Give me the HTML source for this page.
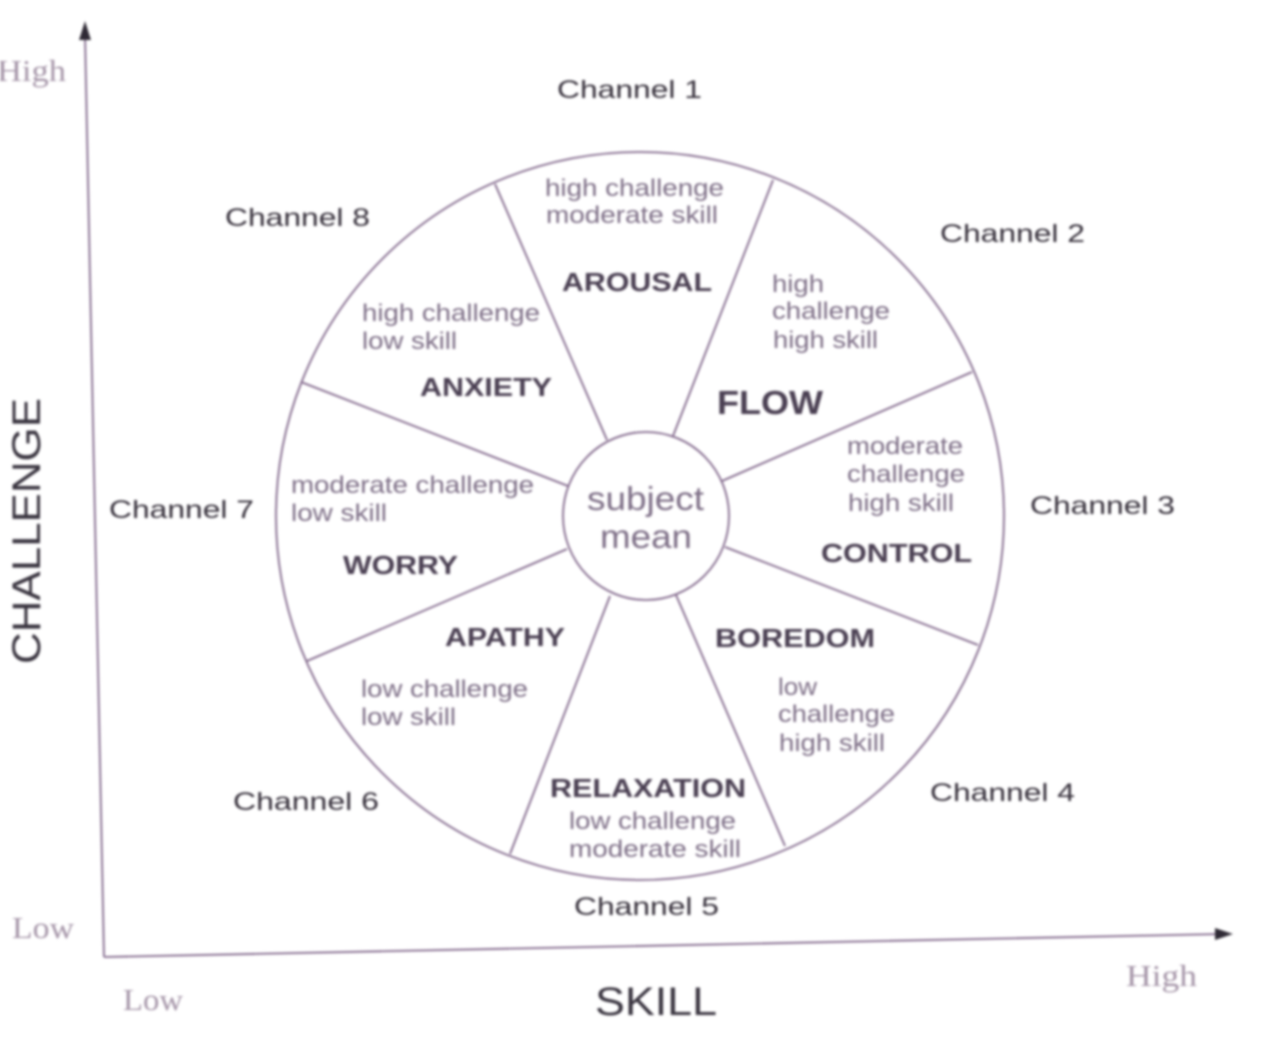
<!DOCTYPE html>
<html><head><meta charset="utf-8">
<style>
html,body{margin:0;padding:0;background:#fff;width:1280px;height:1055px;overflow:hidden}
svg{display:block;filter:blur(1.4px)}
text{font-family:"Liberation Sans",sans-serif;fill:#3a3040}
.c{font-size:25px;fill:#352f3a}
.d{font-size:24px;fill:#7d6e86}
.b{font-size:26px;font-weight:bold;fill:#4a3f52}
.s{font-family:"Liberation Serif",serif;font-size:31px;fill:#a595a8}
</style></head><body>
<svg width="1280" height="1055" viewBox="0 0 1280 1055" xmlns="http://www.w3.org/2000/svg">
<g stroke="#80668a" stroke-width="1.8" fill="none">
<line x1="85" y1="35" x2="104" y2="957"/>
<line x1="104" y1="957" x2="1222" y2="934"/>
<ellipse cx="640" cy="516" rx="364" ry="364"/>
<ellipse cx="646" cy="516" rx="83" ry="84" fill="#fff"/>
<line x1="495" y1="184" x2="607" y2="440"/>
<line x1="773" y1="180" x2="673" y2="436"/>
<line x1="972" y1="372" x2="722" y2="481"/>
<line x1="978" y1="645" x2="725" y2="547"/>
<line x1="785" y1="846" x2="676" y2="595"/>
<line x1="510" y1="854" x2="610" y2="596"/>
<line x1="307" y1="661" x2="567" y2="549"/>
<line x1="301" y1="382" x2="568" y2="486"/>
</g>
<polygon points="85,21 79,40 91,40" fill="#2f2a35"/>
<polygon points="1233,934 1215,928 1215,940" fill="#2f2a35"/>

<text class="s" x="-3" y="81" textLength="69" lengthAdjust="spacingAndGlyphs">High</text>
<text class="s" x="12" y="938" textLength="62" lengthAdjust="spacingAndGlyphs">Low</text>
<text class="s" x="123" y="1010" textLength="60" lengthAdjust="spacingAndGlyphs">Low</text>
<text class="s" x="1126" y="986" textLength="71" lengthAdjust="spacingAndGlyphs">High</text>

<text x="0" y="0" transform="translate(40,664) rotate(-90)" textLength="266" lengthAdjust="spacingAndGlyphs" style="font-size:40px;fill:#3a3540">CHALLENGE</text>
<text x="595" y="1015" textLength="122" lengthAdjust="spacingAndGlyphs" style="font-size:40px;fill:#3a3540">SKILL</text>

<text class="c" x="557" y="98" textLength="145" lengthAdjust="spacingAndGlyphs">Channel 1</text>
<text class="c" x="940" y="242" textLength="145" lengthAdjust="spacingAndGlyphs">Channel 2</text>
<text class="c" x="1030" y="514" textLength="145" lengthAdjust="spacingAndGlyphs">Channel 3</text>
<text class="c" x="930" y="801" textLength="145" lengthAdjust="spacingAndGlyphs">Channel 4</text>
<text class="c" x="574" y="915" textLength="145" lengthAdjust="spacingAndGlyphs">Channel 5</text>
<text class="c" x="233" y="810" textLength="146" lengthAdjust="spacingAndGlyphs">Channel 6</text>
<text class="c" x="109" y="518" textLength="145" lengthAdjust="spacingAndGlyphs">Channel 7</text>
<text class="c" x="225" y="226" textLength="145" lengthAdjust="spacingAndGlyphs">Channel 8</text>

<text class="d" x="545" y="196" textLength="179" lengthAdjust="spacingAndGlyphs">high challenge</text>
<text class="d" x="546" y="223" textLength="172" lengthAdjust="spacingAndGlyphs">moderate skill</text>
<text class="b" x="562" y="291" textLength="150" lengthAdjust="spacingAndGlyphs">AROUSAL</text>

<text class="d" x="772" y="292" textLength="52" lengthAdjust="spacingAndGlyphs">high</text>
<text class="d" x="772" y="319" textLength="118" lengthAdjust="spacingAndGlyphs">challenge</text>
<text class="d" x="773" y="348" textLength="105" lengthAdjust="spacingAndGlyphs">high skill</text>
<text class="b" x="717" y="414" textLength="106" lengthAdjust="spacingAndGlyphs" style="font-size:33px">FLOW</text>

<text class="d" x="847" y="454" textLength="116" lengthAdjust="spacingAndGlyphs">moderate</text>
<text class="d" x="847" y="482" textLength="118" lengthAdjust="spacingAndGlyphs">challenge</text>
<text class="d" x="848" y="511" textLength="106" lengthAdjust="spacingAndGlyphs">high skill</text>
<text class="b" x="821" y="562" textLength="151" lengthAdjust="spacingAndGlyphs">CONTROL</text>

<text class="b" x="715" y="647" textLength="160" lengthAdjust="spacingAndGlyphs">BOREDOM</text>
<text class="d" x="778" y="695" textLength="39" lengthAdjust="spacingAndGlyphs">low</text>
<text class="d" x="778" y="722" textLength="117" lengthAdjust="spacingAndGlyphs">challenge</text>
<text class="d" x="779" y="751" textLength="106" lengthAdjust="spacingAndGlyphs">high skill</text>

<text class="b" x="550" y="797" textLength="196" lengthAdjust="spacingAndGlyphs">RELAXATION</text>
<text class="d" x="569" y="829" textLength="167" lengthAdjust="spacingAndGlyphs">low challenge</text>
<text class="d" x="569" y="857" textLength="172" lengthAdjust="spacingAndGlyphs">moderate skill</text>

<text class="b" x="445" y="646" textLength="120" lengthAdjust="spacingAndGlyphs">APATHY</text>
<text class="d" x="361" y="697" textLength="167" lengthAdjust="spacingAndGlyphs">low challenge</text>
<text class="d" x="361" y="725" textLength="95" lengthAdjust="spacingAndGlyphs">low skill</text>

<text class="d" x="291" y="493" textLength="243" lengthAdjust="spacingAndGlyphs">moderate challenge</text>
<text class="d" x="291" y="521" textLength="96" lengthAdjust="spacingAndGlyphs">low skill</text>
<text class="b" x="343" y="574" textLength="115" lengthAdjust="spacingAndGlyphs">WORRY</text>

<text class="d" x="362" y="321" textLength="178" lengthAdjust="spacingAndGlyphs">high challenge</text>
<text class="d" x="362" y="349" textLength="95" lengthAdjust="spacingAndGlyphs">low skill</text>
<text class="b" x="420" y="396" textLength="132" lengthAdjust="spacingAndGlyphs">ANXIETY</text>

<text x="587" y="510" textLength="117" lengthAdjust="spacingAndGlyphs" style="font-size:33px;fill:#7d6e86">subject</text>
<text x="600" y="548" textLength="92" lengthAdjust="spacingAndGlyphs" style="font-size:33px;fill:#7d6e86">mean</text>
</svg>
</body></html>
